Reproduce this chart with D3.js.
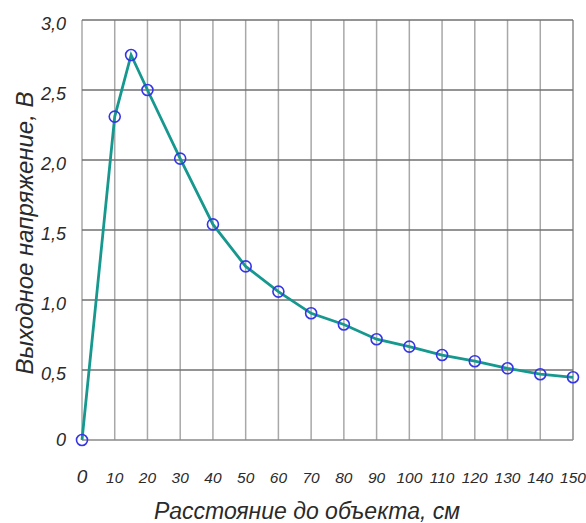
<!DOCTYPE html>
<html>
<head>
<meta charset="utf-8">
<script src="https://cdn.jsdelivr.net/npm/d3@7"></script>
<style>
  body { margin: 0; background: #fff; }
  text { font-family: "Liberation Sans", Arial, sans-serif; font-style: italic; fill: #2a2a2a; }
</style>
</head>
<body>
<div id="chart"></div>
<script>
"use strict";

// distance, cm and output voltage, V
const distance = [0, 10, 15, 20, 30, 40, 50, 60, 70, 80, 90, 100, 110, 120, 130, 140, 150];
const voltage = [0, 2.31, 2.75, 2.5, 2.01, 1.54, 1.24, 1.06, 0.905, 0.825, 0.72, 0.667, 0.607, 0.563, 0.512, 0.47, 0.448];
const xTicks = [0, 10, 20, 30, 40, 50, 60, 70, 80, 90, 100, 110, 120, 130, 140, 150];
const yTicks = [0, 0.5, 1.0, 1.5, 2.0, 2.5, 3.0];

document.addEventListener("DOMContentLoaded", function() {
  showGraph();
});

function showGraph() {
  let widtha = 586, heighta = 523;
  let margin = {top: 20, right: 13, bottom: 83, left: 82};
  let width = widtha - margin.left - margin.right,
      height = heighta - margin.top - margin.bottom;

  let svg = d3.select("#chart").append("svg")
    .attr("width", widtha)
    .attr("height", heighta);

  let x = d3.scaleLinear().domain([0, 150]).range([0, width]);
  let y = d3.scaleLinear().domain([0, 3]).range([height, 0]);

  let g = svg.append("g").attr("transform", `translate(${margin.left},${margin.top})`);

  // vertical grid
  g.append("g")
    .selectAll("line")
    .data(xTicks)
    .enter().append("line")
    .attr("x1", d => x(d)).attr("x2", d => x(d))
    .attr("y1", 0).attr("y2", height)
    .attr("stroke", "#a8a8a8")
    .attr("stroke-width", 1.5);

  // right border
  g.append("line")
    .attr("x1", width).attr("x2", width).attr("y1", 0).attr("y2", height)
    .attr("stroke", "#a0a0a0").attr("stroke-width", 1.5);

  // horizontal grid
  g.append("g")
    .selectAll("line")
    .data(yTicks)
    .enter().append("line")
    .attr("x1", 0).attr("x2", width)
    .attr("y1", d => y(d)).attr("y2", d => y(d))
    .attr("stroke", d => d === 0 ? "#8a8a8a" : "#707070")
    .attr("stroke-width", 1.5);

  // y tick labels
  g.append("g")
    .selectAll("text")
    .data(yTicks)
    .enter().append("text")
    .attr("x", -16)
    .attr("y", d => y(d))
    .attr("dy", d => d === 0 ? "0.35em" : "0.55em")
    .attr("text-anchor", "end")
    .style("font-size", "18px")
    .text(d => d === 0 ? "0" : d3.format(".1f")(d).replace(".", ","));

  // x tick labels
  g.append("g")
    .selectAll("text")
    .data(xTicks)
    .enter().append("text")
    .attr("x", d => x(d))
    .attr("y", height + 43)
    .attr("text-anchor", "middle")
    .style("font-size", d => d === 0 ? "19px" : "15.5px")
    .text(d => d);

  // line
  let line = d3.line()
    .x((d, i) => x(distance[i]))
    .y(d => y(d))
    .curve(d3.curveLinear);

  g.append("path")
    .datum(voltage)
    .attr("fill", "none")
    .attr("stroke", "#16988f")
    .attr("stroke-width", 2.8)
    .attr("d", line);

  g.selectAll(".pt")
    .data(voltage)
    .enter().append("circle")
    .attr("class", "pt")
    .attr("cx", (d, i) => x(distance[i]))
    .attr("cy", d => y(d))
    .attr("r", 5.5)
    .attr("fill", "none")
    .attr("stroke", "#3535e8")
    .attr("stroke-width", 1.6);

  // axis titles
  svg.append("text")
    .attr("x", 307)
    .attr("y", 519)
    .attr("text-anchor", "middle")
    .style("font-size", "23px")
    .text("Расстояние до объекта, см");

  svg.append("text")
    .attr("transform", "translate(33,233) rotate(-90)")
    .attr("text-anchor", "middle")
    .style("font-size", "24px")
    .text("Выходное напряжение, В");
}
</script>
</body>
</html>
